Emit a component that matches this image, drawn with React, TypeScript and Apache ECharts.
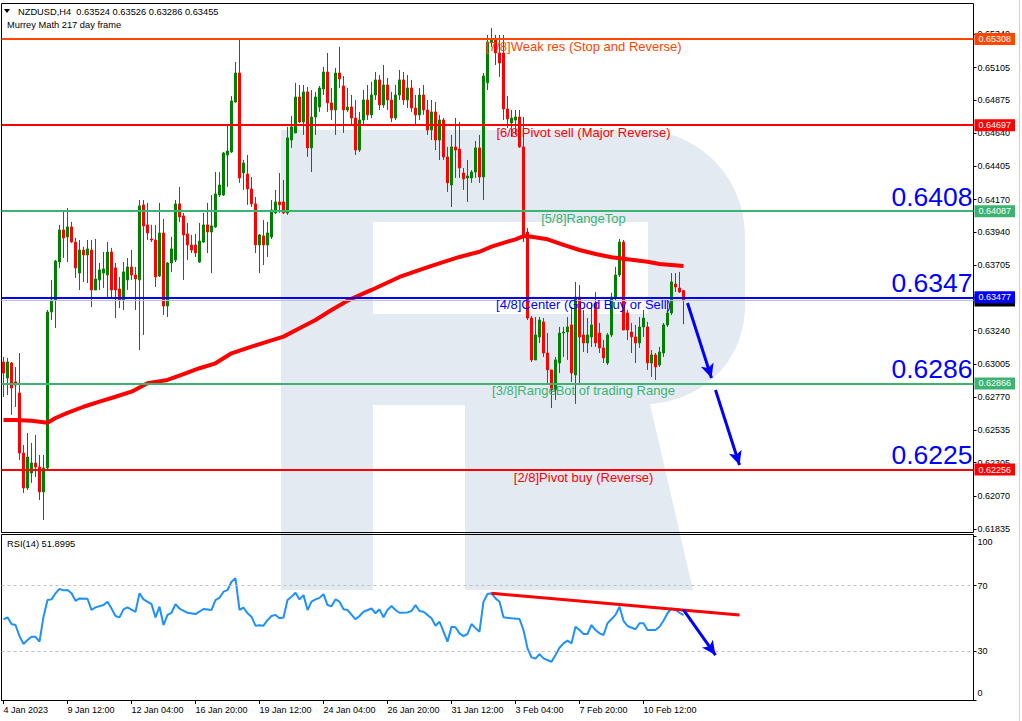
import React, { useEffect, useRef } from "react";
import * as echarts from "echarts";

const FONT = '"Liberation Sans", Arial, Helvetica, sans-serif';

// ---------- data ----------
const slotCount = 243; // visible bar slots incl. right shift space
const ticksEvery = 16;
const tickLabels = [
  "4 Jan 2023", "9 Jan 12:00", "12 Jan 04:00", "16 Jan 20:00", "19 Jan 12:00",
  "24 Jan 04:00", "26 Jan 20:00", "31 Jan 12:00", "3 Feb 04:00", "7 Feb 20:00", "10 Feb 12:00",
];

// prices in 1e-5 units
const candleOpen = [
  63018, 62905, 63011, 62877, 62799, 62373, 62125, 62231, 62302, 62274,
  62097, 62267, 63373, 63458, 63727, 63954, 63905, 63976, 63869, 63649,
  63812, 63777, 63812, 63529, 63600, 63649, 63635, 63798, 63685, 63536,
  63458, 63600, 63692, 63635, 63600, 64132, 63990, 63890, 63883, 63628,
  63933, 63415, 63720, 63741, 64139, 64054, 63926, 63848, 63848, 63727,
  63869, 63990, 63940, 63976, 64202, 64202, 64486, 64507, 64862, 65067,
  64358, 64351, 64245, 64139, 63848, 63912, 63848, 63905, 64075, 64153,
  64153, 64075, 64592, 64642, 64897, 64720, 64933, 64536, 64755, 64826,
  64954, 65074, 64855, 64805, 65067, 64975, 64805, 64826, 64748, 64521,
  64734, 64876, 64770, 64911, 65018, 64841, 64982, 64876, 64748, 64911,
  65018, 64876, 64961, 64819, 64770, 64911, 64805, 64663, 64791, 64592,
  64734, 64472, 64273, 64543, 64528, 64358, 64323, 64323, 64365, 64536,
  64330, 64997, 65287, 65301, 65209, 65209, 64812, 64713, 64734, 64755,
  64543, 63940, 63330, 63033, 63196, 63302, 63082, 62962, 62820, 63011,
  63224, 63231, 63281, 62926, 63479, 63210, 63153, 63196, 63437, 63224,
  63118, 63011, 63210, 63479, 63635, 63869, 63366, 63231, 63196, 63153,
  63267, 63267, 63011, 63068, 62997, 63082, 63281, 63366, 63571, 63543,
  63524,
];
const candleClose = [
  62940, 63018, 62834, 62855, 62373, 62125, 62345, 62302, 62274, 62097,
  62267, 63373, 63458, 63734, 63954, 63898, 63976, 63869, 63685, 63812,
  63777, 63820, 63529, 63607, 63671, 63678, 63798, 63529, 63529, 63458,
  63657, 63692, 63635, 63607, 64125, 63983, 63933, 63883, 63621, 63933,
  63415, 63720, 63820, 64139, 64046, 63919, 63848, 63812, 63791, 63876,
  63990, 63940, 63983, 64209, 64273, 64500, 64514, 64869, 65067, 64323,
  64429, 64245, 64139, 63848, 63919, 63848, 63933, 64096, 64153, 64132,
  64075, 64607, 64685, 64897, 64720, 64933, 64536, 64755, 64897, 64961,
  65074, 64855, 64805, 65067, 65025, 64805, 64826, 64748, 64521, 64734,
  64876, 64770, 64911, 65018, 64841, 64982, 64876, 64748, 64911, 65018,
  64876, 64961, 64819, 64770, 64911, 64805, 64663, 64791, 64592, 64734,
  64472, 64288, 64543, 64521, 64394, 64316, 64337, 64365, 64536, 64330,
  65046, 65287, 65301, 65209, 65138, 64812, 64741, 64748, 64755, 64543,
  63919, 63330, 63033, 63210, 63316, 63082, 62962, 62820, 63033, 63224,
  63231, 63267, 62940, 63479, 63196, 63153, 63210, 63281, 63153, 63118,
  63047, 63210, 63479, 63635, 63869, 63245, 63245, 63196, 63153, 63267,
  63330, 63011, 63068, 62983, 63089, 63281, 63366, 63586, 63550, 63515,
  63455,
];
const candleLow = [
  62770, 62784, 62643, 62699, 62324, 62090, 62111, 62161, 62203, 62040,
  61898, 62253, 63316, 63259, 63685, 63756, 63727, 63862, 63614, 63529,
  63586, 63578, 63408, 63529, 63529, 63543, 63479, 63479, 63330, 63401,
  63387, 63529, 63600, 63387, 63103, 63210, 63883, 63869, 63550, 63621,
  63352, 63337, 63657, 63727, 64011, 63600, 63741, 63791, 63763, 63720,
  63862, 63791, 63649, 63968, 64188, 64195, 64259, 64500, 64855, 64288,
  64238, 64132, 64117, 63791, 63649, 63706, 63763, 63890, 64068, 64075,
  64068, 64061, 64536, 64642, 64713, 64628, 64472, 64365, 64628, 64791,
  64911, 64791, 64734, 64628, 64961, 64642, 64791, 64699, 64486, 64507,
  64699, 64734, 64748, 64876, 64805, 64819, 64805, 64720, 64734, 64876,
  64841, 64819, 64791, 64699, 64734, 64770, 64628, 64592, 64521, 64450,
  64450, 64224, 64117, 64323, 64323, 64238, 64153, 64288, 64323, 64288,
  64167, 64946, 65252, 65124, 65039, 64734, 64677, 64614, 64628, 64536,
  63869, 63316, 63018, 63033, 63153, 63054, 62870, 62692, 62749, 62940,
  63054, 63033, 62877, 62721, 62855, 63089, 63082, 63125, 63125, 63082,
  63011, 62997, 63196, 63458, 63621, 63245, 63174, 63082, 63011, 63118,
  63196, 62962, 62912, 62891, 62983, 63054, 63267, 63352, 63515, 63508,
  63286,
];
const candleHigh = [
  63054, 63047, 63018, 62983, 63082, 62430, 62515, 62444, 62501, 62359,
  62359, 63387, 63600, 63742, 63990, 64082, 64110, 64011, 63898, 63883,
  63834, 63883, 63883, 63890, 63720, 63798, 63869, 63827, 63720, 63621,
  63727, 63756, 63812, 63692, 64167, 64167, 64146, 63990, 63990, 64146,
  64032, 63727, 63905, 64167, 64259, 64075, 64004, 63919, 63926, 64004,
  64075, 64146, 64202, 64365, 64365, 64507, 64699, 64904, 65145, 65301,
  64451, 64486, 64330, 64188, 63926, 64025, 64011, 64167, 64238, 64358,
  64309, 64685, 64763, 64997, 64982, 64982, 64968, 64947, 64933, 64975,
  65110, 65209, 64961, 65103, 65252, 65046, 64961, 64911, 64876, 64791,
  64946, 64982, 65004, 65074, 65053, 65124, 65032, 64933, 64982, 65088,
  65074, 65053, 65018, 64911, 64961, 64982, 64876, 64876, 64862, 64770,
  64748, 64543, 64628, 64748, 64720, 64394, 64450, 64379, 64585, 64628,
  65067, 65337, 65386, 65337, 65337, 65337, 64904, 64805, 64805, 64805,
  64755, 63968, 63345, 63337, 63337, 63330, 63224, 62962, 63054, 63267,
  63267, 63337, 63408, 63586, 63564, 63387, 63330, 63437, 63515, 63295,
  63174, 63224, 63508, 63692, 63890, 63883, 63387, 63295, 63281, 63337,
  63387, 63302, 63103, 63082, 63125, 63295, 63458, 63649, 63649, 63657,
  63526,
];

// Moving average 217: [bar index, price x1e5]
const ma217: [number, number][] = [
  [0, 62607], [3, 62607], [7, 62602], [11, 62588], [13, 62621], [16, 62657], [20, 62701],
  [24, 62737], [28, 62772], [32, 62808], [36, 62867], [41, 62891], [45, 62933], [49, 62974],
  [53, 63009], [57, 63080], [62, 63127], [66, 63163], [70, 63198], [74, 63257], [78, 63316],
  [82, 63387], [86, 63453], [92, 63529], [99, 63621], [107, 63699], [114, 63763], [119, 63800],
  [122, 63836], [126, 63871], [128, 63888], [130, 63911], [132, 63906], [136, 63888],
  [140, 63848], [144, 63812], [148, 63784], [152, 63761], [156, 63746], [161, 63729],
  [164, 63713], [170, 63699],
];

// RSI(14): [bar index, value]
const rsi14: [number, number][] = [
  [0, 49.4], [1, 50.6], [2, 46.5], [3, 45.9], [4, 39.1], [5, 34.3], [6, 36.7], [7, 38.7], [8, 38.7], [9, 35.7],
  [10, 51], [11, 61.2], [12, 61.6], [13, 65.3], [14, 68], [15, 67.1], [16, 67.3], [17, 65.3], [18, 60.7], [19, 62.2],
  [21, 62], [22, 55.1], [23, 56.7], [25, 58.1], [26, 60.2], [27, 56], [28, 51.4], [29, 50.6], [30, 55.5], [31, 56.7],
  [33, 54], [34, 65.3], [35, 61.6], [37, 58.7], [38, 50.6], [39, 57.1], [40, 45.9], [41, 52.1], [42, 53.4], [43, 58.7],
  [44, 56], [46, 53.4], [48, 52.6], [50, 55.7], [52, 55.1], [53, 61.2], [54, 62.6], [55, 66.3], [56, 67.3], [57, 72.4],
  [58, 74.5], [59, 55.1], [60, 56.5], [61, 53.1], [62, 51], [63, 45.5], [64, 45.7], [65, 45.5], [66, 48.9], [67, 51.4],
  [68, 52.1], [69, 50], [70, 50.5], [71, 61.2], [72, 63.2], [73, 65.6], [74, 61.6], [75, 64.2], [76, 55.1], [77, 60.2],
  [78, 61.6], [79, 62.5], [80, 64.8], [81, 58.1], [82, 57.4], [83, 61.6], [84, 60.2], [85, 55.5], [86, 55.1], [87, 52.3],
  [88, 49.4], [89, 51.4], [90, 54], [92, 56], [93, 53.1], [94, 55.5], [95, 50.6], [96, 55.1], [97, 57.5], [98, 55.1],
  [99, 53.4], [101, 53.6], [102, 54.5], [103, 58.1], [104, 54.5], [105, 54], [106, 52.1], [107, 50], [108, 45.5], [109, 47.9],
  [110, 41.8], [111, 35.7], [112, 44.8], [113, 44.5], [114, 40.8], [115, 39.1], [116, 40.4], [117, 46.5], [118, 44], [119, 41.8],
  [120, 60.2], [121, 64.9], [122, 65.3], [123, 62.2], [124, 60.2], [125, 50.6], [127, 50], [129, 49.6], [130, 42.8], [131, 31.6],
  [132, 26.1], [133, 25.3], [134, 28.1], [135, 25.5], [137, 23.4], [138, 27.6], [139, 32], [140, 34.7], [141, 36.3], [142, 34.7],
  [143, 44.8], [144, 42.8], [145, 40.4], [146, 40.4], [147, 45.9], [148, 42.8], [149, 40.8], [150, 39.8], [151, 47], [153, 52.1],
  [154, 57.1], [155, 48.5], [156, 45.3], [158, 43.3], [159, 47], [160, 47], [161, 42.8], [163, 42.8], [164, 44.8], [165, 48.5],
  [166, 53.1], [167, 56], [168, 55.1], [169, 53.4], [170, 51.9],
];
const rsiTrend: [number, number][] = [[122, 65.3], [184, 52.0]];
const rsiArrow: [number, number][] = [[170, 55.1], [178, 27.5]];
const rsiTicks = [0, 30, 70, 100];
const rsiLabelAt = [4.3, 30, 70, 96.9]; // where the terminal prints the RSI scale texts
const rsiLevels = [30, 70];

const priceTicks = [61835, 62070, 62305, 62535, 62770, 63005, 63240, 63475, 63705, 63940, 64170, 64405, 64640, 64875, 65105, 65340];

const levelPrices = [65308, 64697, 64087, 63477, 62866, 62256];
const levelColors = ["#FF4500", "#FF0000", "#3CB371", "#0000FF", "#3CB371", "#FF0000"];
const levelNames = [
  "[7/8]Weak res (Stop and Reverse)",
  "[6/8]Pivot sell (Major Reverse)",
  "[5/8]RangeTop",
  "[4/8]Center (Good Buy or Sell)",
  "[3/8]RangeBot of trading Range",
  "[2/8]Pivot buy (Reverse)",
];
const bigLabels = ["", "", "0.6408", "0.6347", "0.6286", "0.6225"];
const bidPrice = 63455;
const forecastArrows: [number, number][][] = [
  [[171, 63436], [177, 62905]],
  [[178, 62820], [184, 62288]],
];

const headerLine1 = "NZDUSD,H4  0.63524 0.63526 0.63286 0.63455";
const headerLine2 = "Murrey Math 217 day frame";
const rsiTitle = "RSI(14) 51.8995";

// watermark logo outline (pixel space)
const logoPath =
  "M281 130 L640 130 C698 130 745 177 745 235 L745 305 C745 360 705 400 650 404 L693 590 L465 590 L465 405 L373 405 L373 590 L281 590 Z " +
  "M373 222 L373 314 L648 314 L648 222 Z";
echarts.graphic.registerShape("rlogo", echarts.graphic.extendPath(logoPath, {}));

const P = (v: number) => v / 1e5;

export default function App() {
  const ref = useRef<HTMLDivElement>(null);
  useEffect(() => {
    const el = ref.current!;
    const chart = echarts.init(el, null, { renderer: "svg" });
    const cats = Array.from({ length: slotCount }, (_, i) => String(i));
    const candles = candleOpen.map((o, i) => [P(o), P(candleClose[i]), P(candleLow[i]), P(candleHigh[i])]);
    const maData = ma217.map(([i, v]) => [i, P(v)]);
    const hidden = { lineStyle: { color: "transparent", width: 0 }, showSymbol: false, silent: true };
    const noLine = { color: "transparent", width: 0 };

    const levelTextItems: any[] = levelPrices.map((lp, k) => [
      {
        coord: [120, P(lp)],
        lineStyle: noLine,
        label: {
          show: true, position: "insideMiddleBottom", formatter: levelNames[k], color: levelColors[k],
          fontSize: 13, fontFamily: FONT, distance: 1,
        },
      },
      { coord: [170, P(lp)] },
    ]);
    const bidItem = {
      yAxis: P(bidPrice),
      lineStyle: { color: "#C0C0C0", width: 1, type: "solid" },
      label: {
        show: true, position: "end", formatter: P(bidPrice).toFixed(5), color: "#fff", backgroundColor: "#000",
        padding: [2, 4, 1, 4], fontSize: 9, fontFamily: FONT, distance: 1,
      },
    };
    const levelItems: any[] = [];
    levelPrices.forEach((lp, k) => {
      levelItems.push({
        yAxis: P(lp),
        lineStyle: { color: levelColors[k], width: 2, type: "solid" },
        label: {
          show: true, position: "end", formatter: P(lp).toFixed(5), color: "#fff", backgroundColor: levelColors[k],
          padding: [2, 4, 1, 4], fontSize: 9, fontFamily: FONT, distance: 1,
        },
      });
      if (bigLabels[k]) {
        levelItems.push({
          yAxis: P(lp),
          lineStyle: noLine,
          label: {
            show: true, position: "insideEndTop", formatter: bigLabels[k], color: "#0000FF",
            fontSize: 26.5, fontFamily: FONT, distance: 1,
          },
        });
      }
    });

    const option: any = {
      animation: false,
      backgroundColor: "#fff",
      textStyle: { fontFamily: FONT },
      grid: [
        { left: 1.5, top: 3.5, width: 972, height: 529, show: true, borderColor: "#000", borderWidth: 1 },
        { left: 1.5, top: 534.5, width: 972, height: 166, show: true, borderColor: "#000", borderWidth: 1 },
      ],
      xAxis: [
        { type: "category", gridIndex: 0, data: cats, boundaryGap: true, show: false },
        {
          type: "category", gridIndex: 1, data: cats, boundaryGap: true,
          axisLine: { show: true, lineStyle: { color: "#000", width: 1 } },
          axisTick: {
            show: true, alignWithLabel: true, length: 4, lineStyle: { color: "#000" },
            interval: (i: number) => i % ticksEvery === 0 && i / ticksEvery < tickLabels.length,
          },
          axisLabel: {
            show: true, align: "left", fontSize: 9, color: "#000", margin: 5, fontFamily: FONT,
            interval: (i: number) => i % ticksEvery === 0 && i / ticksEvery < tickLabels.length,
            formatter: (_v: string, i: number) => (i % ticksEvery === 0 ? tickLabels[i / ticksEvery] ?? "" : ""),
          },
          splitLine: { show: false },
        },
      ],
      yAxis: [
        {
          type: "value", gridIndex: 0, position: "right", min: 0.618095, max: 0.655597, scale: true,
          axisLine: { show: false },
          splitLine: { show: false },
          axisTick: { show: true, length: 3, lineStyle: { color: "#000" }, customValues: priceTicks.map(P) },
          axisLabel: {
            show: true, fontSize: 9, color: "#000", margin: 4, fontFamily: FONT,
            customValues: priceTicks.map(P), formatter: (v: number) => v.toFixed(5),
          },
        },
        {
          type: "value", gridIndex: 1, position: "right", min: -0.3, max: 101.3,
          axisLine: { show: false },
          splitLine: { show: false },
          axisTick: { show: true, length: 3, lineStyle: { color: "#000" }, customValues: rsiTicks },
          axisLabel: {
            show: true, fontSize: 9, color: "#000", margin: 4, fontFamily: FONT,
            customValues: rsiLabelAt,
            formatter: (v: number) => {
              let best = rsiTicks[0];
              rsiTicks.forEach((t) => { if (Math.abs(t - v) < Math.abs(best - v)) best = t; });
              return String(best);
            },
          },
        },
      ],
      graphic: [
        { type: "rlogo", x: 0, y: 0, z: -10, silent: true, style: { fill: "#E4EAF2" } },
        { type: "polygon", z: 10, shape: { points: [[4, 9], [10, 9], [7, 13]] }, style: { fill: "#000" } },
        {
          type: "text", x: 18, y: 11.5, z: 10,
          style: { text: headerLine1, fontSize: 9.3, fontFamily: FONT, fill: "#000", verticalAlign: "middle" },
        },
        {
          type: "text", x: 7, y: 24.5, z: 10,
          style: { text: headerLine2, fontSize: 9.3, fontFamily: FONT, fill: "#000", verticalAlign: "middle" },
        },
        {
          type: "text", x: 7, y: 543.5, z: 10,
          style: { text: rsiTitle, fontSize: 9.3, fontFamily: FONT, fill: "#000", verticalAlign: "middle" },
        },
        { type: "line", z: 10, shape: { x1: 1019.5, y1: 0, x2: 1019.5, y2: 721 }, style: { stroke: "#D0D0D0", lineWidth: 1 } },
      ],
      series: [
        {
          name: "levelTextHost", type: "line", xAxisIndex: 0, yAxisIndex: 0, data: maData, z: 1, ...hidden,
          markLine: { silent: true, precision: 6, symbol: ["none", "none"], animation: false, data: [bidItem, ...levelTextItems] },
        },
        {
          name: "NZDUSD", type: "candlestick", xAxisIndex: 0, yAxisIndex: 0, data: candles, z: 2,
          barWidth: 2,
          itemStyle: { color: "#008000", color0: "#FF0000", borderColor: "#008000", borderColor0: "#FF0000", borderWidth: 1 },
        },
        {
          name: "levelHost", type: "line", xAxisIndex: 0, yAxisIndex: 0, data: maData, z: 3, ...hidden,
          markLine: { silent: true, precision: 6, symbol: ["none", "none"], animation: false, data: levelItems },
        },
        {
          name: "MA217", type: "line", xAxisIndex: 0, yAxisIndex: 0, z: 4,
          data: maData,
          showSymbol: false, lineStyle: { color: "#FF0000", width: 4 },
        },
        {
          name: "arrowHost", type: "line", xAxisIndex: 0, yAxisIndex: 0, data: maData, z: 5, ...hidden,
          markLine: {
            silent: true, precision: 6, animation: false, symbol: ["none", "arrow"], symbolSize: [10, 14],
            lineStyle: { color: "#0000FF", width: 3, type: "solid" },
            label: { show: false },
            data: forecastArrows.map(([a, b]) => [{ coord: [a[0], P(a[1])] }, { coord: [b[0], P(b[1])] }]),
          },
        },
        {
          name: "RSI", type: "line", xAxisIndex: 1, yAxisIndex: 1, data: rsi14, z: 3,
          showSymbol: false, lineStyle: { color: "#1E90FF", width: 2 },
          markLine: {
            silent: true, precision: 6, animation: false, symbol: ["none", "none"], label: { show: false },
            lineStyle: { color: "#C0C0C0", width: 1, type: [3, 3] },
            data: rsiLevels.map((v) => ({ yAxis: v })),
          },
        },
        {
          name: "RSItrend", type: "line", xAxisIndex: 1, yAxisIndex: 1, data: rsiTrend, z: 4,
          showSymbol: false, lineStyle: { color: "#FF0000", width: 3 },
        },
        {
          name: "RSIarrowHost", type: "line", xAxisIndex: 1, yAxisIndex: 1, data: rsiTrend, z: 5, ...hidden,
          markLine: {
            silent: true, precision: 6, animation: false, symbol: ["none", "arrow"], symbolSize: [10, 14],
            lineStyle: { color: "#0000FF", width: 3, type: "solid" }, label: { show: false },
            data: [[{ coord: rsiArrow[0] }, { coord: rsiArrow[1] }]],
          },
        },
      ],
    };
    chart.setOption(option);
    return () => chart.dispose();
  }, []);
  return (
    <div
      ref={ref}
      style={{ position: "fixed", left: 0, top: 0, width: 1022, height: 721, background: "#fff" }}
    />
  );
}
